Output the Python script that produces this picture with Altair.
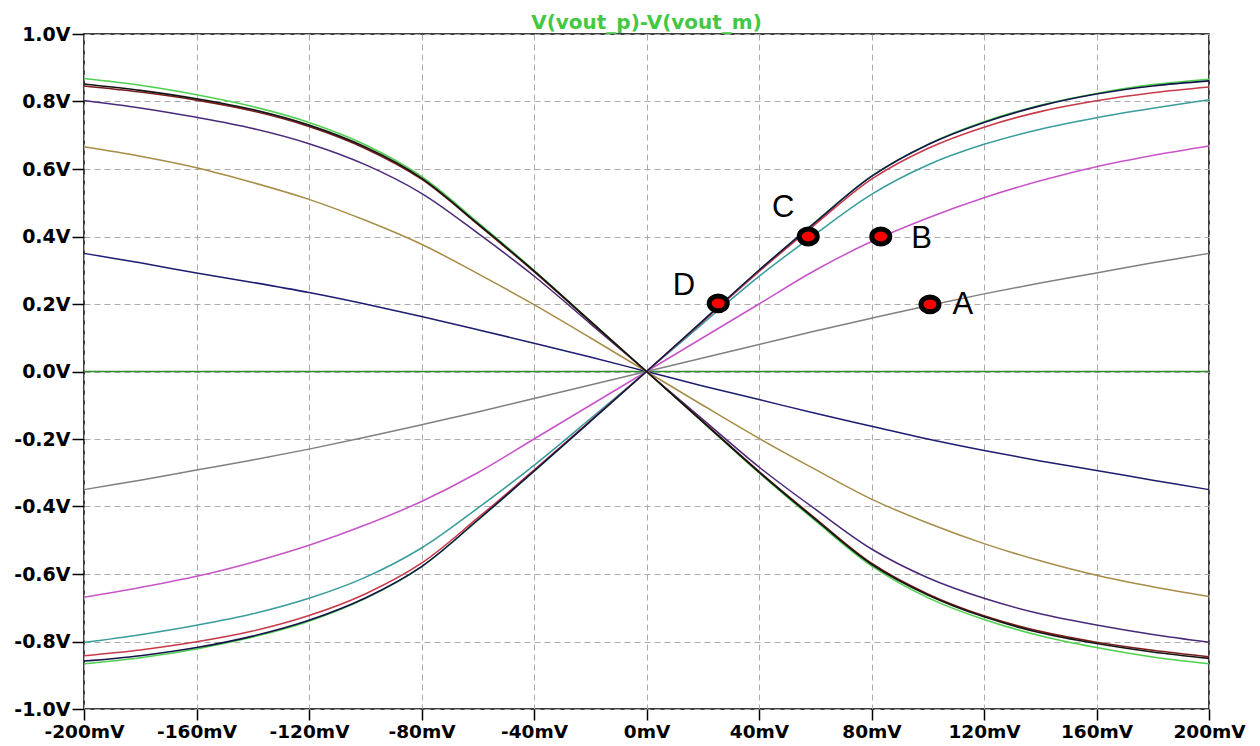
import altair as alt
import pandas as pd

x_mv = [-200, -180, -160, -140, -120, -100, -80, -60, -40, -20, 0,
        20, 40, 60, 80, 100, 120, 140, 160, 180, 200]

# falling traces
fall_green = [0.868, 0.848, 0.82, 0.785, 0.738, 0.672, 0.578, 0.442, 0.30, 0.15, 0,
              -0.15, -0.30, -0.442, -0.576, -0.67, -0.735, -0.783, -0.818, -0.846, -0.866]
fall_black = [0.852, 0.833, 0.808, 0.776, 0.73, 0.665, 0.573, 0.438, 0.298, 0.149, 0,
              -0.149, -0.298, -0.438, -0.571, -0.662, -0.727, -0.774, -0.806, -0.831, -0.85]
fall_darkred = [0.846, 0.828, 0.804, 0.772, 0.726, 0.661, 0.57, 0.436, 0.296, 0.148, 0,
                -0.148, -0.296, -0.435, -0.568, -0.659, -0.724, -0.77, -0.802, -0.826, -0.845]
fall_purple = [0.803, 0.781, 0.753, 0.72, 0.675, 0.613, 0.528, 0.41, 0.283, 0.142, 0,
               -0.142, -0.283, -0.408, -0.526, -0.611, -0.672, -0.718, -0.751, -0.779, -0.802]
fall_olive = [0.666, 0.638, 0.604, 0.56, 0.51, 0.448, 0.377, 0.29, 0.198, 0.1, 0,
              -0.1, -0.198, -0.29, -0.378, -0.449, -0.51, -0.561, -0.604, -0.638, -0.667]
fall_navy = [0.35, 0.322, 0.292, 0.264, 0.234, 0.2, 0.163, 0.124, 0.084, 0.043, 0,
             -0.043, -0.083, -0.124, -0.162, -0.2, -0.234, -0.265, -0.293, -0.322, -0.35]

# rising traces
rise_navy = [-0.858, -0.842, -0.818, -0.784, -0.737, -0.671, -0.578, -0.44, -0.295, -0.148, 0,
             0.15, 0.30, 0.442, 0.578, 0.672, 0.738, 0.787, 0.822, 0.846, 0.861]
rise_green = [-0.866, -0.848, -0.822, -0.787, -0.74, -0.673, -0.579, -0.441, -0.296, -0.148, 0,
              0.15, 0.30, 0.443, 0.579, 0.673, 0.74, 0.789, 0.824, 0.85, 0.866]
rise_red = [-0.842, -0.825, -0.801, -0.769, -0.723, -0.659, -0.568, -0.434, -0.292, -0.146, 0,
            0.148, 0.296, 0.436, 0.57, 0.661, 0.724, 0.77, 0.802, 0.826, 0.843]
rise_teal = [-0.803, -0.78, -0.752, -0.718, -0.672, -0.61, -0.523, -0.405, -0.278, -0.14, 0,
             0.142, 0.282, 0.407, 0.525, 0.612, 0.673, 0.718, 0.752, 0.78, 0.805]
rise_magenta = [-0.669, -0.64, -0.607, -0.565, -0.515, -0.455, -0.385, -0.3, -0.2, -0.1, 0,
                0.1, 0.2, 0.3, 0.385, 0.455, 0.515, 0.565, 0.607, 0.64, 0.668]
rise_gray = [-0.35, -0.322, -0.292, -0.262, -0.23, -0.195, -0.158, -0.12, -0.08, -0.04, 0,
             0.04, 0.08, 0.12, 0.158, 0.195, 0.23, 0.262, 0.292, 0.322, 0.35]
flat_zero = [0] * 21

series = [
    ("flat", flat_zero, "#2f8f2f", 1.5),
    ("f_navy", fall_navy, "#1c1c70", 1.6),
    ("r_gray", rise_gray, "#808080", 1.4),
    ("f_olive", fall_olive, "#a88c48", 1.5),
    ("r_magenta", rise_magenta, "#c855c8", 1.6),
    ("f_purple", fall_purple, "#4a2a78", 1.6),
    ("r_teal", rise_teal, "#3a9c9c", 1.6),
    ("f_green", fall_green, "#4fd04f", 3.0),
    ("r_green", rise_green, "#4fd04f", 3.0),
    ("f_darkred", fall_darkred, "#7a1c1c", 1.6),
    ("r_red", rise_red, "#c83a4a", 1.6),
    ("f_black", fall_black, "#151515", 1.6),
    ("r_navy", rise_navy, "#14144a", 1.6),
]

rows = []
for order, (name, vals, col, w) in enumerate(series):
    for xv, yv in zip(x_mv, vals):
        rows.append({"x": xv, "y": yv, "series": name, "k": order})
df = pd.DataFrame(rows)

names = [s[0] for s in series]
colors = [s[2] for s in series]
widths = [s[3] for s in series]

dot_x = [25.5, 57.5, 83.3, 100.8]
dot_y = [0.202, 0.4, 0.4, 0.199]
lab_text = ["D", "C", "B", "A"]
lab_x = [13.3, 48.6, 97.8, 112.5]
lab_y = [0.254, 0.4835, 0.393, 0.197]

x_ticks = [-200, -160, -120, -80, -40, 0, 40, 80, 120, 160, 200]
y_ticks = [-1.0, -0.8, -0.6, -0.4, -0.2, 0.0, 0.2, 0.4, 0.6, 0.8, 1.0]

dots = pd.DataFrame({"x": dot_x, "y": dot_y})
labs = pd.DataFrame({"x": lab_x, "y": lab_y, "t": lab_text})

xscale = alt.Scale(domain=[-200, 200], nice=False, zero=False)
yscale = alt.Scale(domain=[-1.0, 1.0], nice=False, zero=False)

xaxis = alt.Axis(values=x_ticks,
                 labelExpr="(datum.value < 0 ? '-' : '') + format(abs(datum.value), 'd') + 'mV'",
                 title=None, grid=True, gridDash=[6, 4], gridColor="#ababab", gridWidth=1,
                 domain=False, ticks=True, tickSize=11, tickColor="black", tickWidth=1.5,
                 labelFont="DejaVu Sans", labelFontWeight="bold", labelFontSize=18.5,
                 labelColor="black", labelPadding=2, labelFlush=False, labelOverlap=False)
yaxis = alt.Axis(values=y_ticks,
                 labelExpr="(datum.value < 0 ? '-' : '') + format(abs(datum.value), '.1f') + 'V'",
                 title=None, grid=True, gridDash=[6, 4], gridColor="#ababab", gridWidth=1,
                 domain=False, ticks=True, tickSize=12, tickColor="black", tickWidth=1.5,
                 labelFont="DejaVu Sans", labelFontWeight="bold", labelFontSize=19,
                 labelColor="black", labelPadding=2, labelFlush=False, labelOverlap=False)

lines = alt.Chart(df).mark_line(interpolate="catmull-rom").encode(
    x=alt.X("x:Q", scale=xscale, axis=xaxis),
    y=alt.Y("y:Q", scale=yscale, axis=yaxis),
    color=alt.Color("series:N", scale=alt.Scale(domain=names, range=colors), legend=None, sort=names),
    strokeWidth=alt.StrokeWidth("series:N", scale=alt.Scale(domain=names, range=widths), legend=None),
    order=alt.Order("x:Q"),
)

ell = "M-1.15,0A1.15,0.95 0 1,0 1.15,0A1.15,0.95 0 1,0 -1.15,0Z"
pts = alt.Chart(dots).mark_point(shape=ell, size=245, filled=True, fill="#ff0000",
                                  stroke="black", strokeWidth=5, opacity=1).encode(
    x=alt.X("x:Q", scale=xscale), y=alt.Y("y:Q", scale=yscale))

txt = alt.Chart(labs).mark_text(font="Liberation Sans", fontSize=31, color="black",
                                align="center", baseline="middle").encode(
    x=alt.X("x:Q", scale=xscale), y=alt.Y("y:Q", scale=yscale), text="t:N")

chart = alt.layer(lines, pts, txt).properties(
    width=1125, height=675,
    title=alt.TitleParams("V(vout_p)-V(vout_m)", font="DejaVu Sans", fontSize=20,
                          fontWeight="bold", color="#44c844", anchor="middle", offset=-8),
    autosize=alt.AutoSizeParams(type="none"),
    padding={"left": 76, "top": 26, "right": 41, "bottom": 35},
    background="white",
).configure_view(stroke="black", strokeWidth=1.5)

chart.save("out.html", embed_options={"renderer": "svg", "actions": False})
